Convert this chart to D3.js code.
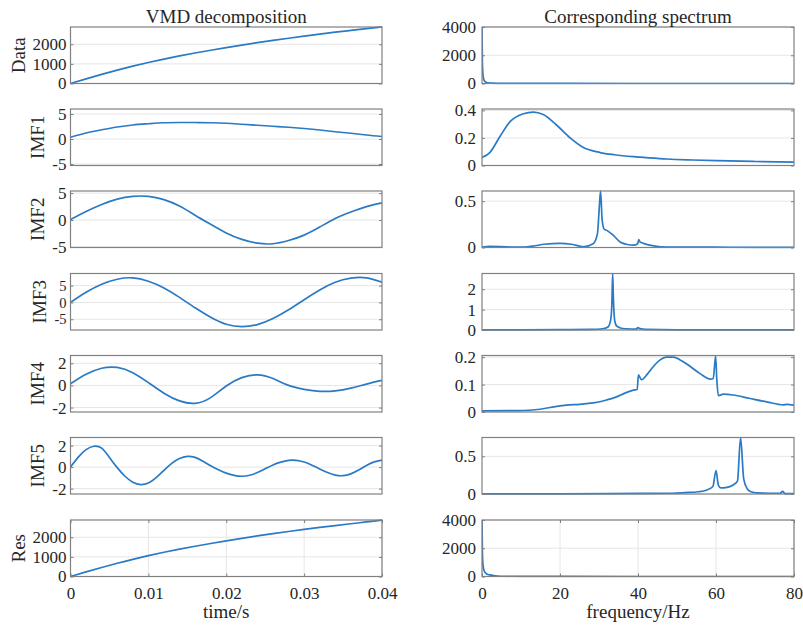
<!DOCTYPE html>
<html>
<head>
<meta charset="utf-8">
<script src="https://cdn.jsdelivr.net/npm/d3@7"></script>
<style>
  body { margin: 0; background: #fff; }
  svg { display: block; font-family: "Liberation Serif", "Times New Roman", serif; }
</style>
</head>
<body>
<svg id="chart" width="803" height="628"></svg>
<script>
// ---- data ----
// time axis (s)
const tCoarse = [0, 0.002, 0.004, 0.006, 0.008, 0.01, 0.012, 0.014, 0.016, 0.018, 0.02,
  0.022, 0.024, 0.026, 0.028, 0.03, 0.032, 0.034, 0.036, 0.038, 0.04];
const tFine = [0, 0.001, 0.002, 0.003, 0.004, 0.005, 0.006, 0.007, 0.008, 0.009, 0.01,
  0.011, 0.012, 0.013, 0.014, 0.015, 0.016, 0.017, 0.018, 0.019, 0.02,
  0.021, 0.022, 0.023, 0.024, 0.025, 0.026, 0.027, 0.028, 0.029, 0.03,
  0.031, 0.032, 0.033, 0.034, 0.035, 0.036, 0.037, 0.038, 0.039, 0.04];

const dataSig = [0, 236, 464, 680, 882, 1070, 1244, 1404, 1554, 1696, 1830,
  1958, 2080, 2196, 2308, 2415, 2517, 2614, 2706, 2795, 2880];
const imf1 = [0.35, 1.2, 1.85, 2.4, 2.8, 3.05, 3.25, 3.3, 3.3, 3.25, 3.15,
  2.95, 2.75, 2.55, 2.35, 2.1, 1.8, 1.45, 1.15, 0.8, 0.5];
const imf2 = [0.1, 1.6, 2.9, 3.9, 4.4, 4.4, 3.8, 2.6, 0.9, -0.8, -2.4,
  -3.6, -4.3, -4.4, -3.8, -2.8, -1.3, 0.3, 1.5, 2.5, 3.2];
const imf3 = [0, 3.0, 5.4, 6.9, 7.3, 6.3, 4.3, 1.5, -1.6, -4.4, -6.5,
  -7.2, -6.6, -4.8, -2.2, 0.8, 3.7, 6.0, 7.2, 7.3, 6.0];
const imf4 = [0.15, 1.0, 1.55, 1.62, 1.15, 0.25, -0.7, -1.4, -1.62, -1.1, -0.05,
  0.7, 0.95, 0.62, 0.0, -0.35, -0.53, -0.5, -0.25, 0.12, 0.45];
const imf5 = [0, 0.93, 1.62, 1.94, 1.76, 0.9, -0.05, -0.85, -1.4, -1.62, -1.48,
  -0.98, -0.3, 0.35, 0.8, 1.0, 0.9, 0.55, 0.12, -0.25, -0.56,
  -0.77, -0.85, -0.76, -0.5, -0.16, 0.2, 0.46, 0.62, 0.63, 0.47,
  0.18, -0.17, -0.5, -0.74, -0.8, -0.63, -0.28, 0.15, 0.48, 0.65];
const resSig = [0, 234, 460, 675, 876, 1062, 1235, 1394, 1543, 1684, 1818,
  1946, 2067, 2183, 2294, 2400, 2501, 2598, 2690, 2780, 2870];

// spectra (frequency in Hz, amplitude)
const fData = [0, 0.1, 0.2, 0.3, 0.5, 0.8, 1.2, 1.6, 2.5, 4, 8, 20, 40, 80];
const specData = [4000, 1500, 800, 500, 250, 130, 70, 40, 20, 10, 5, 2, 1, 1];
const fImf1 = [0, 2, 4.6, 7.2, 10.6, 13.2, 15.7, 19.1, 22.6, 26, 30.3, 34, 38.8, 43, 47.4, 54, 60.2, 70, 80];
const specImf1 = [0.058, 0.094, 0.21, 0.318, 0.376, 0.388, 0.37, 0.294, 0.2, 0.13, 0.094, 0.078,
  0.064, 0.055, 0.047, 0.04, 0.035, 0.029, 0.024];
const fImf2 = [0, 2, 4.6, 8, 10, 13, 16, 20, 23, 26, 28.5, 29.6, 30.1, 30.4, 30.8, 31.3, 32,
  33.7, 35.4, 37, 38.9, 39.9, 40.2, 40.5, 41.4, 43, 45.7, 50, 60, 70, 80];
const specImf2 = [0.005, 0.012, 0.011, 0.004, 0.003, 0.015, 0.035, 0.045, 0.035, 0.008, 0.04, 0.15,
  0.45, 0.61, 0.3, 0.2, 0.185, 0.13, 0.06, 0.035, 0.025, 0.04, 0.085, 0.06, 0.045, 0.025,
  0.008, 0.004, 0.003, 0.002, 0.002];
const fImf3 = [0, 10, 20, 28, 31, 32.3, 33, 33.3, 33.5, 33.7, 34, 34.5, 35.5, 37, 39.5, 40, 40.5, 42, 50, 60, 80];
const specImf3 = [0.005, 0.01, 0.02, 0.03, 0.06, 0.15, 0.5, 1.3, 2.77, 1.5, 0.5, 0.2, 0.1, 0.06,
  0.04, 0.12, 0.07, 0.03, 0.01, 0.01, 0.005];
const fImf4 = [0, 8.9, 14.9, 18, 21.7, 25, 28.5, 31.5, 34.5, 36.5, 38.8, 39.8, 40.1, 40.9, 42.5,
  43.9, 45.5, 47.4, 49.1, 50.8, 52.5, 55.9, 58.5, 59.3, 59.9, 60.2, 60.6, 61.9, 64.4, 68.5,
  73, 77.3, 78.1, 80];
const specImf4 = [0.004, 0.005, 0.01, 0.018, 0.025, 0.028, 0.033, 0.042, 0.055, 0.068, 0.08,
  0.082, 0.135, 0.118, 0.14, 0.165, 0.188, 0.2, 0.2, 0.19, 0.175, 0.14, 0.12, 0.122, 0.205,
  0.12, 0.06, 0.065, 0.062, 0.05, 0.037, 0.026, 0.028, 0.025];
const fImf5 = [0, 20, 40, 48.7, 52, 55.5, 57.5, 59.2, 60, 60.6, 61.2, 62.5, 64.4, 65.5, 66.3,
  67.1, 68, 69, 70.4, 76.4, 77.1, 77.7, 80];
const specImf5 = [0.002, 0.002, 0.008, 0.01, 0.018, 0.03, 0.05, 0.1, 0.31, 0.12, 0.08, 0.085,
  0.12, 0.17, 0.75, 0.2, 0.07, 0.03, 0.015, 0.01, 0.035, 0.005, 0.005];
const fRes = [0, 0.1, 0.2, 0.35, 0.5, 0.8, 1.2, 2, 3, 4, 6, 10, 20, 40, 80];
const specRes = [4000, 1800, 1000, 650, 450, 280, 180, 110, 60, 35, 18, 8, 3, 1.5, 1];

// row labels and tick values
const rowLabels = ["Data", "IMF1", "IMF2", "IMF3", "IMF4", "IMF5", "Res"];
const leftYTicks = [[0, 1000, 2000], [-5, 0, 5], [-5, 0, 5], [-5, 0, 5], [-2, 0, 2], [-2, 0, 2], [0, 1000, 2000]];
const leftYDomain = [[0, 2880], [-5.3, 6], [-5.1, 5.4], [-8.2, 8.6], [-2.4, 2.7], [-2.5, 2.75], [0, 2880]];
const rightYTicks = [[0, 2000, 4000], [0, 0.2, 0.4], [0, 0.5], [0, 1, 2], [0, 0.1, 0.2], [0, 0.5], [0, 2000, 4000]];
const rightYDomain = [[0, 4000], [0, 0.41], [0, 0.61], [0, 2.77], [0, 0.206], [0, 0.75], [0, 4000]];
const timeTicks = [0, 0.01, 0.02, 0.03, 0.04];
const freqTicks = [0, 20, 40, 60, 80];

const leftSeries = [
  [tCoarse, dataSig], [tCoarse, imf1], [tCoarse, imf2], [tCoarse, imf3],
  [tCoarse, imf4], [tFine, imf5], [tCoarse, resSig]
];
const rightSeries = [
  [fData, specData], [fImf1, specImf1], [fImf2, specImf2], [fImf3, specImf3],
  [fImf4, specImf4], [fImf5, specImf5], [fRes, specRes]
];

// ---- layout ----
const svg = d3.select("#chart");
const panelTop = [27, 109, 191, 273.5, 355.5, 437.5, 520];
const panelH = 56.5;
const colLeft = { x0: 70.5, x1: 382 };
const colRight = { x0: 482, x1: 794 };
const lineColour = "#2a7ac6";
const boxColour = "#808080";
const gridColour = "#e6e6e6";
const textColour = "#262626";
const fontTick = "17px";
const fontLabel = "19px";

let clipId = 0;

function drawPanel(opt) {
  const y0 = opt.top, y1 = opt.top + panelH;
  const x = d3.scaleLinear().domain(opt.xDomain).range([opt.x0, opt.x1]);
  const y = d3.scaleLinear().domain(opt.yDomain).range([y1, y0]);
  const g = svg.append("g");

  // horizontal grid
  g.selectAll(".hgrid")
    .data(opt.yTicks)
    .enter()
    .append("line")
    .attr("x1", opt.x0).attr("x2", opt.x1)
    .attr("y1", function (d) { return y(d); })
    .attr("y2", function (d) { return y(d); })
    .attr("stroke", gridColour)
    .attr("stroke-width", 1);

  // vertical grid only on the bottom row
  if (opt.xTicks) {
    g.selectAll(".vgrid")
      .data(opt.xTicks)
      .enter()
      .append("line")
      .attr("x1", function (d) { return x(d); })
      .attr("x2", function (d) { return x(d); })
      .attr("y1", y0).attr("y2", y1)
      .attr("stroke", gridColour)
      .attr("stroke-width", 1);
  }

  const id = "clip" + (clipId++);
  svg.append("clipPath").attr("id", id)
    .append("rect")
    .attr("x", opt.x0).attr("y", y0 - 1)
    .attr("width", opt.x1 - opt.x0).attr("height", panelH + 2);

  const line = d3.line()
    .x(function (d) { return x(d[0]); })
    .y(function (d) { return y(d[1]); })
    .curve(opt.curve);

  const pts = opt.xs.map(function (v, i) { return [v, opt.ys[i]]; });

  g.append("path")
    .datum(pts)
    .attr("clip-path", "url(#" + id + ")")
    .attr("fill", "none")
    .attr("stroke", lineColour)
    .attr("stroke-width", 1.7)
    .attr("stroke-linejoin", "round")
    .attr("d", line);

  // left axis with labels, ticks pointing in
  const gy = g.append("g")
    .attr("transform", `translate(${opt.x0},0)`)
    .call(d3.axisLeft(y).tickValues(opt.yTicks).tickSize(-3).tickPadding(opt.pad)
      .tickFormat(function (d) { return String(d); }));
  gy.select(".domain").remove();
  gy.attr("font-family", null).attr("font-size", opt.tickFont || fontTick);
  gy.selectAll(".tick line").attr("stroke", boxColour);
  gy.selectAll(".tick text").attr("fill", textColour);

  // mirrored ticks on the right edge
  const gyr = g.append("g")
    .attr("transform", `translate(${opt.x1},0)`)
    .call(d3.axisRight(y).tickValues(opt.yTicks).tickSize(-3).tickFormat(""));
  gyr.select(".domain").remove();
  gyr.selectAll(".tick line").attr("stroke", boxColour);

  if (opt.xTicks) {
    const gx = g.append("g")
      .attr("transform", `translate(0,${y1})`)
      .call(d3.axisBottom(x).tickValues(opt.xTicks).tickSize(-3).tickPadding(10)
        .tickFormat(function (d) { return String(d); }));
    gx.select(".domain").remove();
    gx.attr("font-family", null).attr("font-size", fontTick);
    gx.selectAll(".tick line").attr("stroke", boxColour);
    gx.selectAll(".tick text").attr("fill", textColour);

    const gxt = g.append("g")
      .attr("transform", `translate(0,${y0})`)
      .call(d3.axisTop(x).tickValues(opt.xTicks).tickSize(-3).tickFormat(""));
    gxt.select(".domain").remove();
    gxt.selectAll(".tick line").attr("stroke", boxColour);
  }

  // box
  g.append("rect")
    .attr("x", opt.x0).attr("y", y0)
    .attr("width", opt.x1 - opt.x0).attr("height", panelH)
    .attr("fill", "none")
    .attr("stroke", boxColour)
    .attr("stroke-width", 1.2);

  // y label, placed left of the widest tick label
  if (opt.label) {
    const bb = gy.node().getBBox();
    const lx = opt.x0 + bb.x - 8;
    g.append("text")
      .attr("transform", `translate(${lx},${(y0 + y1) / 2}) rotate(-90)`)
      .attr("text-anchor", "middle")
      .attr("font-size", fontLabel)
      .attr("fill", textColour)
      .text(opt.label);
  }
}

rowLabels.forEach(function (lab, i) {
  const last = i === rowLabels.length - 1;
  drawPanel({
    top: panelTop[i], x0: colLeft.x0, x1: colLeft.x1,
    xDomain: [0, 0.04], yDomain: leftYDomain[i], yTicks: leftYTicks[i],
    xs: leftSeries[i][0], ys: leftSeries[i][1],
    curve: d3.curveNatural, pad: 4, label: lab,
    // IMF3 ticks sit close together, so its labels are a touch smaller
    tickFont: lab === "IMF3" ? "14.5px" : null,
    xTicks: last ? timeTicks : null
  });
  drawPanel({
    top: panelTop[i], x0: colRight.x0, x1: colRight.x1,
    xDomain: [0, 80], yDomain: rightYDomain[i], yTicks: rightYTicks[i],
    xs: rightSeries[i][0], ys: rightSeries[i][1],
    curve: d3.curveMonotoneX, pad: 6, label: null,
    xTicks: last ? freqTicks : null
  });
});

// titles and axis labels
svg.append("text")
  .attr("x", (colLeft.x0 + colLeft.x1) / 2).attr("y", 23)
  .attr("text-anchor", "middle").attr("font-size", fontLabel).attr("fill", textColour)
  .text("VMD decomposition");
svg.append("text")
  .attr("x", (colRight.x0 + colRight.x1) / 2).attr("y", 23)
  .attr("text-anchor", "middle").attr("font-size", fontLabel).attr("fill", textColour)
  .text("Corresponding spectrum");
svg.append("text")
  .attr("x", (colLeft.x0 + colLeft.x1) / 2).attr("y", 618)
  .attr("text-anchor", "middle").attr("font-size", fontLabel).attr("fill", textColour)
  .text("time/s");
svg.append("text")
  .attr("x", (colRight.x0 + colRight.x1) / 2).attr("y", 618)
  .attr("text-anchor", "middle").attr("font-size", fontLabel).attr("fill", textColour)
  .text("frequency/Hz");
</script>
</body>
</html>
